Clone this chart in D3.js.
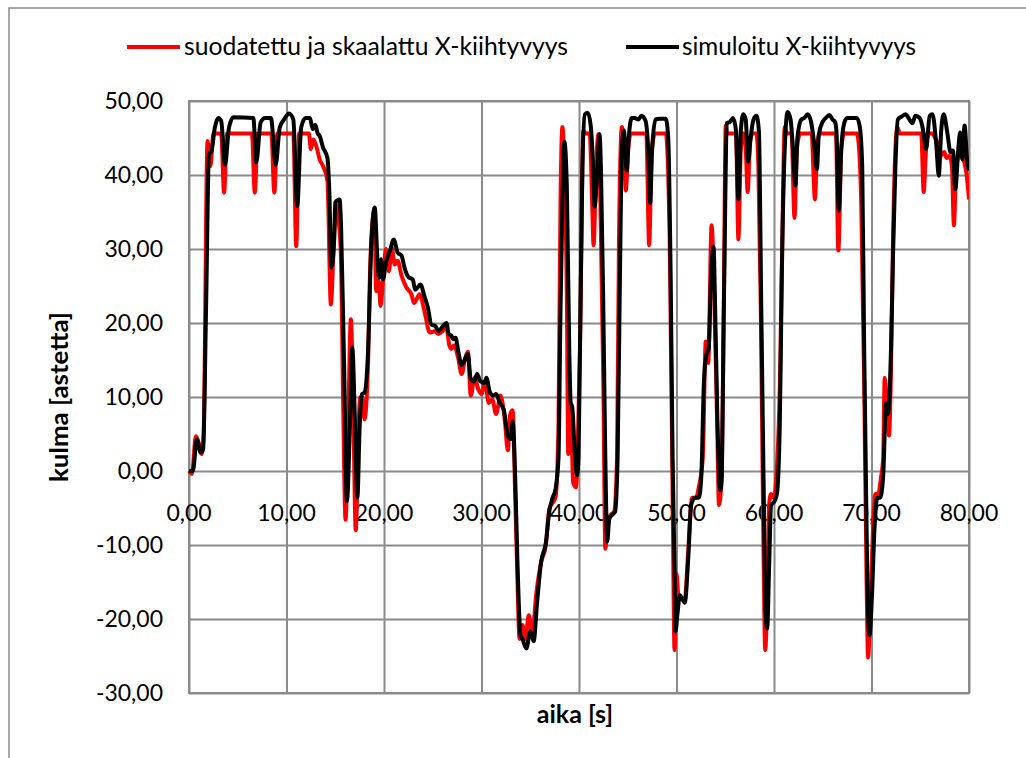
<!DOCTYPE html>
<html>
<head>
<meta charset="utf-8">
<script src="https://cdn.jsdelivr.net/npm/d3@7"></script>
<style>
  body { margin: 0; background: #fff; }
  text { font-family: Lato, "Open Sans", sans-serif; fill: #000; }
</style>
</head>
<body>
<svg id="chart" width="1026" height="758"></svg>
<script>
// axis ticks
const xTicks = [0, 10, 20, 30, 40, 50, 60, 70, 80];
const yTicks = [-30, -20, -10, 0, 10, 20, 30, 40, 50];
const seriesNames = ["suodatettu ja skaalattu X-kiihtyvyys", "simuloitu X-kiihtyvyys"];
const axisTitles = ["aika [s]", "kulma [astetta]"];

// [time s, angle]
const redSeries = [
  [0,0],[0.3,-0.4],[0.7,4.7],[0.95,4.0],[1.3,2.3],[1.5,5],[1.9,44.6],[2.2,41.2],[2.5,45.6],[3.3,45.6],
  [3.6,37.6],[3.9,45.6],[6.45,45.6],[6.75,37.6],[7.05,45.6],[8.45,45.6],[8.75,37.6],[9.05,45.6],[10.7,45.6],
  [11.0,30.4],[11.3,45.6],[12.3,45.6],[12.5,43.5],[12.75,44.8],[13.1,43.7],[13.4,42.1],[13.75,41.2],[14.2,39.2],
  [14.55,22.5],[14.9,32.4],[15.1,36.0],[15.35,33.8],[15.6,28.4],[15.8,10],[16.06,-6.6],[16.35,8],[16.6,20.5],
  [16.85,8],[17.1,-8.0],[17.5,9.9],[17.75,10],[18.0,7.0],[18.35,14.0],[18.6,28.4],[19.0,35.1],[19.2,24.3],
  [19.45,25.7],[19.65,22.3],[19.9,25.9],[20.2,30.0],[20.5,27.0],[20.8,30.2],[21.1,27.9],[21.4,28.4],[21.8,26.4],
  [22.3,24.8],[22.8,23.9],[23.1,22.7],[23.65,23.9],[24.15,21.6],[24.7,18.7],[25.2,18.9],[25.6,18.5],[26.0,18.9],
  [26.4,19.4],[26.7,17.0],[26.9,16.5],[27.2,17.0],[27.6,15.3],[27.97,13.1],[28.3,15.1],[28.6,16.1],[28.9,10.2],
  [29.3,12.6],[29.66,11.1],[30.0,10.4],[30.35,12.1],[30.75,9.2],[31.1,9.7],[31.5,7.7],[31.95,10.2],[32.4,6.7],
  [32.7,2.8],[32.95,7.7],[33.2,8.2],[33.45,-3.1],[33.65,-12.9],[33.9,-22.7],[34.2,-20.8],[34.5,-22.7],[34.85,-19.5],
  [35.2,-22.2],[35.6,-16.8],[36.1,-12.4],[36.6,-10.0],[36.95,-5.1],[37.3,-4.3],[37.6,-3.5],[37.9,6.7],[38.1,36.2],
  [38.3,46.5],[38.5,41.1],[38.75,23.9],[38.9,2.3],[39.15,9.2],[39.4,-1.6],[39.7,-2.2],[39.9,5],[40.1,16.5],
  [40.45,46.0],[40.7,45.6],[41.1,45.6],[41.35,36.2],[41.5,30.5],[41.75,41.1],[42.0,45.5],[42.2,36],[42.5,11.6],
  [42.7,-10.5],[42.9,-8.0],[43.2,-6.0],[43.6,-5.5],[43.9,1.8],[44.1,31.3],[44.4,46.5],[44.6,44.5],[44.8,37.9],
  [45.05,43.5],[45.3,45.6],[46.9,45.6],[47.2,30.5],[47.45,43],[47.8,45.6],[48.9,45.6],[49.3,31.3],[49.6,-3.1],
  [49.8,-24.2],[50.0,-13.9],[50.2,-16.8],[50.85,-17.3],[51.2,-10.9],[51.6,-3.6],[52.0,-3.6],[52.3,-2.1],[52.7,1.8],
  [53.0,17.5],[53.25,14.6],[53.6,33.2],[53.85,25],[54.2,4.3],[54.35,-4.6],[54.65,-0.5],[54.85,22],[55.05,46.7],
  [55.2,45.6],[56.1,45.6],[56.35,31.3],[56.6,43.5],[56.85,45.6],[57.1,43.5],[57.3,37.7],[57.55,44.5],[57.8,45.6],
  [58.2,45.6],[58.4,41.1],[58.65,21.5],[58.9,-8.0],[59.1,-24.2],[59.3,-17.8],[59.5,-4.6],[59.7,-3.1],[60.0,-3.6],
  [60.25,-0.6],[60.6,11.6],[60.85,31.3],[61.1,46.5],[61.35,45.6],[61.8,45.6],[62.1,34.2],[62.35,43.5],[62.7,45.6],
  [63.85,45.6],[64.2,36.7],[64.45,44.5],[64.7,45.6],[66.35,45.6],[66.6,29.8],[66.9,43.5],[67.2,45.6],[68.5,45.6],
  [68.7,44.0],[68.95,36],[69.25,11.6],[69.5,-15.4],[69.65,-25.2],[69.9,-17.8],[70.15,-8.0],[70.4,-3.1],[70.7,-3.1],
  [70.95,-1.1],[71.2,1.8],[71.35,12.6],[71.6,8.7],[71.8,4.8],[72.0,13.6],[72.2,30.8],[72.45,43.5],[72.65,46.5],
  [72.9,45.6],[75.1,45.6],[75.35,37.7],[75.6,43.5],[75.85,45.6],[76.25,45.6],[76.6,44.8],[76.9,44],[77.1,42.6],
  [77.45,43.1],[77.7,42.3],[78.0,42.6],[78.25,41.1],[78.45,33.2],[78.7,41.1],[78.95,42.6],[79.2,43.5],[79.5,41.8],
  [79.75,40.1],[80,36.7]
];

const blackSeries = [
  [0,0],[0.4,0],[0.8,4.3],[1.2,2.5],[1.45,3],[1.75,22],[2.05,42.8],[2.3,43.2],[2.65,46.4],[3.0,47.7],[3.3,47.3],
  [3.7,41.4],[4.1,46.4],[4.55,47.8],[6.6,47.7],[6.9,41.7],[7.35,47.1],[7.8,47.7],[8.4,47.7],[8.9,41.4],[9.3,46.4],
  [9.7,47.4],[10.0,48.0],[10.25,48.3],[10.7,47.5],[11.1,35.8],[11.5,46.4],[11.95,47.7],[12.4,47.7],[12.7,46.2],
  [12.95,46.8],[13.2,45.6],[13.4,45.3],[13.75,43.7],[14.2,42.3],[14.4,37.4],[14.6,27.5],[14.9,31.5],[15.0,36.3],
  [15.45,36.7],[15.6,32.9],[15.9,14.9],[16.2,-4.05],[16.5,5.9],[16.75,16.7],[17.0,7.7],[17.27,-3.6],[17.5,5.9],
  [17.75,10.4],[18.0,10.6],[18.35,15.8],[18.7,30.6],[19.05,35.6],[19.3,29.3],[19.5,26.1],[19.7,28.6],[19.9,25.9],
  [20.2,28.2],[20.6,29.7],[21.0,31.3],[21.4,29.5],[21.8,29.1],[22.1,27.5],[22.5,26.2],[22.95,25.9],[23.2,24.5],
  [23.75,25.2],[24.15,23.6],[24.5,22.1],[24.85,19.8],[25.25,19.6],[25.6,18.9],[26.0,19.5],[26.4,20.0],[26.65,18.5],
  [26.9,18.3],[27.1,17.8],[27.35,18.0],[27.6,16.3],[27.97,14.3],[28.2,14.8],[28.6,15.8],[28.9,12.4],[29.25,12.1],
  [29.55,13.1],[29.9,12.1],[30.3,11.9],[30.5,12.6],[30.85,10.7],[31.2,10.2],[31.5,10.4],[31.85,9.3],[32.3,8.2],
  [32.7,4.8],[33.0,4.3],[33.2,6.7],[33.45,-0.6],[33.7,-12.9],[34.0,-22.2],[34.2,-22.7],[34.6,-24.0],[35.0,-21.7],
  [35.35,-23.0],[35.7,-17.8],[36.1,-12.4],[36.6,-9.7],[36.95,-5.5],[37.3,-3.6],[37.6,-2.4],[37.9,1.8],[38.1,21.5],
  [38.3,36.2],[38.5,44.5],[38.75,38.6],[39.0,16.5],[39.15,9.2],[39.3,8.7],[39.6,1.8],[39.8,-0.6],[39.95,1.8],
  [40.1,16.5],[40.35,41.1],[40.6,48.2],[40.9,48.4],[41.2,46.7],[41.45,41.1],[41.6,35.7],[41.9,41.1],[42.1,45.5],
  [42.25,41.1],[42.5,21.5],[42.7,1.8],[42.9,-9.5],[43.1,-6.5],[43.35,-6.0],[43.7,-5.5],[43.96,1.8],[44.2,26.4],
  [44.4,43.5],[44.6,46.0],[44.9,40.6],[45.1,45.0],[45.4,47.7],[45.7,47.7],[46.1,47.5],[46.4,48.0],[46.8,47.4],
  [47.1,43.5],[47.3,36.2],[47.5,43.5],[47.85,47.5],[48.3,47.6],[48.9,47.6],[49.15,45.0],[49.4,26.4],[49.6,1.8],
  [49.8,-12.9],[49.9,-21.7],[50.1,-19.3],[50.35,-16.8],[50.6,-17.3],[50.85,-17.8],[51.2,-11.9],[51.5,-4.6],
  [51.9,-3.6],[52.3,-3.6],[52.55,-0.6],[52.8,11.6],[53.05,15.6],[53.3,16.5],[53.55,26.4],[53.8,30.3],[53.97,21.5],
  [54.2,6.7],[54.5,-2.6],[54.65,-0.6],[54.8,16.5],[55.0,36.2],[55.15,47.0],[55.5,47.2],[55.8,47.7],[56.1,46.0],
  [56.35,36.7],[56.6,46.0],[56.85,48.2],[57.1,47.5],[57.35,41.8],[57.6,45.0],[57.9,47.5],[58.2,48.0],[58.45,46.0],
  [58.7,21.5],[58.95,-3.1],[59.1,-17.8],[59.3,-21.3],[59.5,-12.9],[59.7,-4.6],[60.05,-4.1],[60.3,-3.1],[60.6,6.7],
  [60.8,26.4],[61.1,43.5],[61.4,48.5],[61.7,47.5],[61.9,44.5],[62.2,38.6],[62.4,45.0],[62.8,47.5],[63.1,47.7],
  [63.45,48.2],[63.8,47.2],[64.1,44.5],[64.4,40.8],[64.6,45.5],[65.0,47.2],[65.3,47.7],[65.7,48.1],[66.0,47.5],
  [66.25,47.2],[66.4,46.0],[66.65,35.2],[66.9,43.5],[67.2,47.0],[67.5,47.7],[68.5,47.7],[68.8,46.5],[69.05,41.1],
  [69.25,16.5],[69.5,-8.0],[69.65,-19.3],[69.8,-22.2],[70.05,-16.8],[70.3,-8.0],[70.6,-3.6],[70.9,-3.6],[71.2,-0.6],
  [71.5,9.2],[71.7,7.7],[72.0,16.5],[72.2,28.8],[72.45,41.1],[72.7,47.5],[73.1,47.9],[73.5,48.2],[73.8,47.7],
  [74.2,47.0],[74.5,48.0],[74.95,47.7],[75.3,46.0],[75.6,43.5],[75.97,48.0],[76.25,48.2],[76.65,44.0],[76.9,39.9],
  [77.15,46.0],[77.4,48.2],[77.8,45.5],[78.1,43.1],[78.35,43.3],[78.6,38.1],[78.9,43.5],[79.1,45.75],[79.3,42.1],
  [79.55,46.7],[79.8,42.1],[80,40.6]
];

const margin = { top: 101, right: 57, bottom: 65, left: 189 };
const svg = d3.select("#chart");
const W = +svg.attr("width"), H = +svg.attr("height");
const width = W - margin.left - margin.right;
const height = H - margin.top - margin.bottom;
const gridColor = "#8a8a8a";

const fi = d3.formatLocale({ decimal: ",", thousands: " ", grouping: [3], currency: ["", ""], minus: "-" });
const fmt = fi.format(".2f");

// chart area frame (runs off the picture right and bottom)
svg.append("rect")
  .attr("x", 9).attr("y", 8).attr("width", 1100).attr("height", 900)
  .attr("fill", "#fff").attr("stroke", gridColor).attr("stroke-width", 1.5);

const x = d3.scaleLinear().domain([0, 80]).range([0, width]);
const y = d3.scaleLinear().domain([-30, 50]).range([height, 0]);

const chart = svg.append("g").attr("transform", `translate(${margin.left},${margin.top})`);

// gridlines
chart.append("g")
  .call(d3.axisBottom(x).tickValues(xTicks).tickSize(height).tickFormat(""))
  .call(g => g.select(".domain").remove())
  .call(g => g.selectAll("line").attr("stroke", gridColor).attr("stroke-width", 2));
chart.append("g")
  .call(d3.axisLeft(y).tickValues(yTicks).tickSize(-width).tickFormat(""))
  .call(g => g.select(".domain").remove())
  .call(g => g.selectAll("line").attr("stroke", gridColor).attr("stroke-width", 2));
chart.append("rect")
  .attr("width", width).attr("height", height)
  .attr("fill", "none").attr("stroke", gridColor).attr("stroke-width", 2);

// tick labels
chart.append("g").selectAll("text")
  .data(yTicks).enter().append("text")
  .attr("x", -26)
  .attr("y", d => y(d) + 8)
  .attr("text-anchor", "end")
  .attr("font-size", 23)
  .text(d => fmt(d));

chart.append("g").selectAll("text")
  .data(xTicks).enter().append("text")
  .attr("x", d => x(d))
  .attr("y", y(0) + 50)
  .attr("text-anchor", "middle")
  .attr("font-size", 23)
  .text(d => fmt(d));

// series lines
chart.append("clipPath").attr("id", "plotclip")
  .append("rect").attr("x", -2).attr("y", -2).attr("width", width + 2).attr("height", height + 4);

const line = d3.line()
  .x(d => x(d[0]))
  .y(d => y(d[1]))
  .curve(d3.curveMonotoneX);

const lines = chart.append("g").attr("clip-path", "url(#plotclip)");
lines.append("path")
  .datum(redSeries)
  .attr("d", line)
  .attr("fill", "none")
  .attr("stroke", "#ff0000")
  .attr("stroke-width", 4)
  .attr("stroke-linejoin", "round");
lines.append("path")
  .datum(blackSeries)
  .attr("d", line)
  .attr("fill", "none")
  .attr("stroke", "#000")
  .attr("stroke-width", 4)
  .attr("stroke-linejoin", "round");

// axis titles
svg.append("text")
  .attr("x", margin.left + width / 2 - 4)
  .attr("y", 723)
  .attr("text-anchor", "middle")
  .attr("font-size", 25)
  .attr("font-weight", "bold")
  .text(axisTitles[0]);

svg.append("text")
  .attr("transform", `translate(68,${margin.top + height / 2}) rotate(-90)`)
  .attr("text-anchor", "middle")
  .attr("font-size", 25)
  .attr("font-weight", "bold")
  .attr("textLength", 170)
  .attr("lengthAdjust", "spacingAndGlyphs")
  .text(axisTitles[1]);

// legend
const legend = [
  { name: seriesNames[0], color: "#ff0000", x0: 127, tx: 184, len: 384 },
  { name: seriesNames[1], color: "#000", x0: 626, tx: 682, len: 234 }
];
const lg = svg.append("g").selectAll("g").data(legend).enter().append("g");
lg.append("line")
  .attr("x1", d => d.x0).attr("x2", d => d.x0 + 53)
  .attr("y1", 47).attr("y2", 47)
  .attr("stroke", d => d.color).attr("stroke-width", 4);
lg.append("text")
  .attr("x", d => d.tx).attr("y", 55)
  .attr("font-size", 25)
  .attr("textLength", d => d.len)
  .attr("lengthAdjust", "spacingAndGlyphs")
  .text(d => d.name);
</script>
</body>
</html>
